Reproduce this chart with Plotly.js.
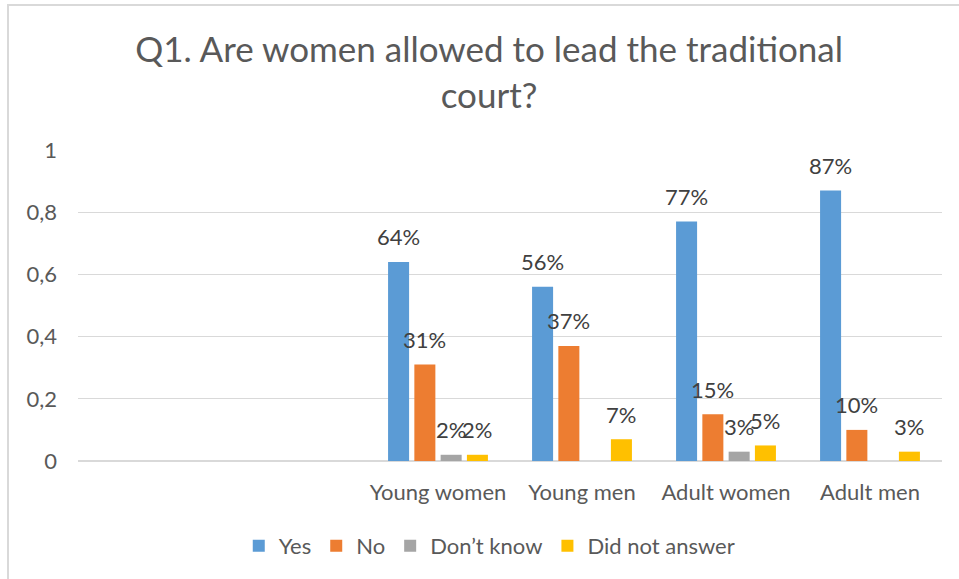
<!DOCTYPE html>
<html>
<head>
<meta charset="utf-8">
<script src="https://cdn.plot.ly/plotly-3.0.1.min.js"></script>
<style>
  html, body { margin: 0; padding: 0; background: #fff; }
  #wrap { position: relative; width: 959px; height: 579px; }
  #chart { width: 959px; height: 579px; }
  #frame { position: absolute; left: 7px; top: 4px; width: 960px; height: 580px;
           border-left: 2px solid #d9d9d9; border-top: 2px solid #d9d9d9; pointer-events: none; }
</style>
</head>
<body>
<div id="wrap"><div id="chart"></div><div id="frame"></div></div>
<script>
const categories = ['Young women', 'Young men', 'Adult women', 'Adult men'];
const seriesNames = ['Yes', 'No', 'Don\u2019t know', 'Did not answer'];
const yes = [0.64, 0.56, 0.77, 0.87];
const no = [0.31, 0.37, 0.15, 0.10];
const dontKnow = [0.02, null, 0.03, null];
const didNotAnswer = [0.02, 0.07, 0.05, 0.03];
const colors = ['#5B9BD5', '#ED7D31', '#A5A5A5', '#FFC000'];
const yTickVals = [0, 0.2, 0.4, 0.6, 0.8, 1];
const yTickText = ['0', '0,2', '0,4', '0,6', '0,8', '1'];

const series = [yes, no, dontKnow, didNotAnswer];
const FONT = 'Lato, "Open Sans", sans-serif';
const bargap = 0.27;
const n = series.length;

const traces = series.map((vals, j) => ({
  type: 'bar',
  name: seriesNames[j],
  x: categories,
  y: vals,
  marker: { color: colors[j] },
  hoverinfo: 'skip'
}));

const annotations = [];
series.forEach((vals, j) => {
  vals.forEach((v, i) => {
    if (v === null || v === undefined) return;
    annotations.push({
      xref: 'x', yref: 'y',
      x: i + (j - (n - 1) / 2) * (1 - bargap) / n,
      y: v,
      text: Math.round(v * 100) + '%',
      showarrow: false,
      xanchor: 'center', yanchor: 'middle',
      yshift: 25,
      font: { family: FONT, size: 22, color: '#404040' }
    });
  });
});

const layout = {
  width: 959, height: 579,
  margin: { l: 78, r: 17, t: 150, b: 118 },
  paper_bgcolor: '#fff', plot_bgcolor: '#fff',
  barmode: 'group',
  bargap: bargap,
  bargroupgap: 0.2,
  title: {
    text: 'Q1. Are women allowed to lead the traditional<br>court?',
    font: { family: FONT, size: 35, color: '#595959' },
    x: 0.51, xanchor: 'center', xref: 'container',
    y: 1 - 62 / 579, yanchor: 'top', yref: 'container'
  },
  xaxis: {
    type: 'category',
    range: [-2.5, 3.5],
    showgrid: false,
    showline: false,
    zeroline: false,
    ticks: '',
    ticklabelstandoff: 16,
    tickfont: { family: FONT, size: 22, color: '#595959' },
    fixedrange: true
  },
  yaxis: {
    range: [0, 1],
    tickvals: yTickVals,
    ticktext: yTickText,
    showgrid: true,
    gridcolor: '#d9d9d9',
    gridwidth: 1.3,
    zeroline: true,
    zerolinecolor: '#d9d9d9',
    zerolinewidth: 1.3,
    showline: false,
    ticks: '',
    ticklabelstandoff: 20,
    tickfont: { family: FONT, size: 22, color: '#595959' },
    fixedrange: true
  },
  showlegend: true,
  legend: {
    orientation: 'h',
    x: 0.476, xanchor: 'center', xref: 'paper',
    y: -0.273, yanchor: 'middle',
    font: { family: FONT, size: 22, color: '#595959' },
    itemwidth: 30,
    traceorder: 'normal'
  },
  annotations: annotations
};

Plotly.newPlot('chart', traces, layout, { staticPlot: true, displayModeBar: false });
</script>
</body>
</html>
